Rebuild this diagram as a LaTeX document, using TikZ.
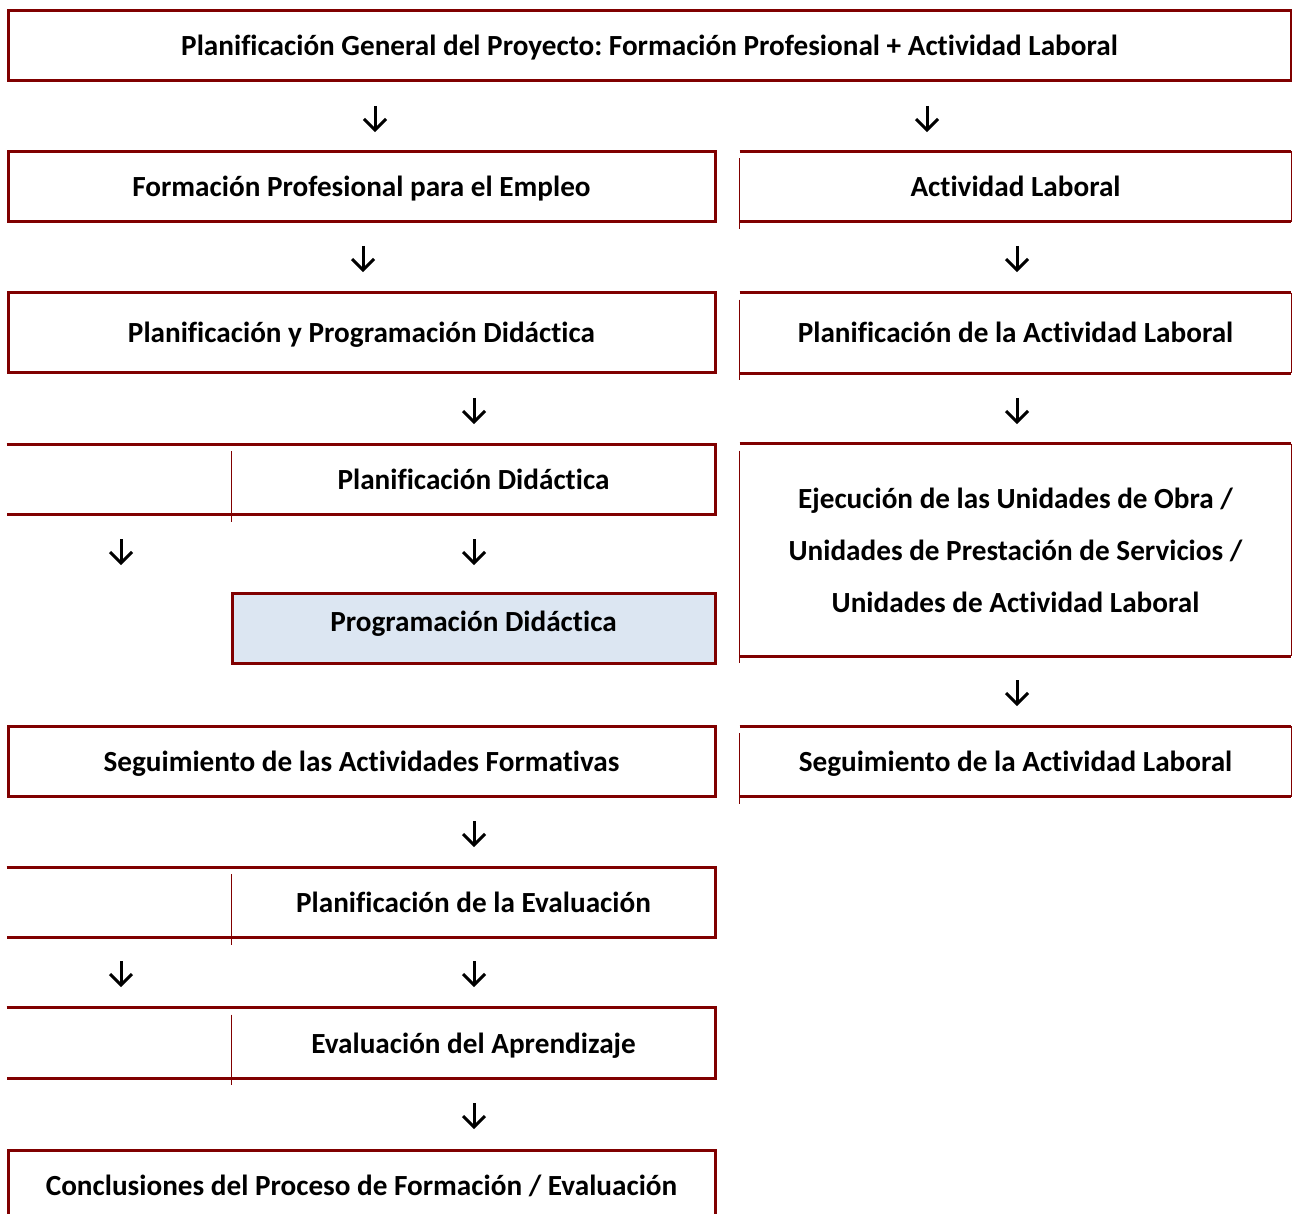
\documentclass[tikz,border=0pt]{standalone}
\usepackage{fontspec}
\setmainfont{Carlito}[RawFeature=-liga]
\frenchspacing
\definecolor{rim}{RGB}{128,0,0}
\definecolor{paleblue}{RGB}{220,230,242}
\tikzset{
  cell/.style={minimum height=35pt, inner sep=0pt, text height=11pt, text depth=1pt},
  lbox/.style={cell, draw=rim, line width=1.5pt, minimum width=353.5pt},
  rbox/.style={cell, minimum width=275.5pt},
  sbox/.style={cell, minimum width=241.5pt},
  edge/.style={draw=rim, line width=1.5pt},
  rule/.style={draw=rim, line width=0.8pt},
  down/.style={minimum size=16pt, inner sep=0pt, path picture={
    \draw[line width=1.5pt] ([yshift=6pt]path picture bounding box.center) -- ([yshift=-6pt]path picture bounding box.center);
    \draw[line width=1.5pt] ([xshift=-5.5pt,yshift=-0.5pt]path picture bounding box.center) -- ([yshift=-6pt]path picture bounding box.center) -- ([xshift=5.5pt,yshift=-0.5pt]path picture bounding box.center);
  }},
}
\begin{document}
\begin{tikzpicture}[x=0.5pt, y=-0.5pt, font=\bfseries\fontsize{14.6pt}{17.5pt}\selectfont]
  \useasboundingbox (0,0) rectangle (1292,1214);

  \node[lbox, minimum width=641.5pt] (gen) at (649.5,45.5) {Planificación General del Proyecto: Formación Profesional + Actividad Laboral};

  \node[lbox] (fpe) at (361.5,186.5) {Formación Profesional para el Empleo};
  \node[rbox] (al) at (1015.5,186.5) {Actividad Laboral};
  \node[lbox, minimum height=40pt] (ppd) at (361.5,333) {Planificación y Programación Didáctica};
  \node[rbox, minimum height=40pt] (pal) at (1015.5,333) {Planificación de la Actividad Laboral};
  \node[sbox] (pd) at (473.5,479.5) {Planificación Didáctica};
  \node[rbox, minimum height=106pt, align=center, text height=, text depth=] (eje) at (1015.5,550) {Ejecución de las Unidades de Obra /\\[8.5pt] Unidades de Prestación de Servicios /\\[8.5pt] Unidades de Actividad Laboral};
  \node[lbox, fill=paleblue, minimum width=241.5pt, text depth=8pt] (prd) at (473.5,628.5) {Programación Didáctica};
  \node[lbox] (saf) at (361.5,761.5) {Seguimiento de las Actividades Formativas};
  \node[rbox] (sal) at (1015.5,761.5) {Seguimiento de la Actividad Laboral};
  \node[sbox] (pev) at (473.5,902.5) {Planificación de la Evaluación};
  \node[sbox] (eap) at (473.5,1043) {Evaluación del Aprendizaje};
  \node[lbox] (con) at (361.5,1185) {Conclusiones del Proceso de Formación / Evaluación};

  % cell borders on the right column
  \foreach \n in {al,pal,eje,sal} {
    \draw[edge] (\n.north west) -- (\n.north east);
    \draw[edge] (\n.south west) -- (\n.south east);
    \draw[rule] ([yshift=-3.5pt]\n.north west) -- ([yshift=-3.5pt]\n.south west);
    \draw[rule] (\n.north east) -- (\n.south east);
  }
  % split rows on the left
  \foreach \n in {pd,pev,eap} {
    \draw[edge] (\n.north west -| fpe.west) -- (\n.north east) -- (\n.south east) -- (\n.south west -| fpe.west);
    \draw[rule] ([yshift=-3.5pt]\n.north west) -- ([yshift=-3.5pt]\n.south west);
  }

  \node[down] (d1) at (375,118) {};
  \node[down] (d2) at (927,118) {};
  \node[down] (d3) at (363,258) {};
  \node[down] (d4) at (1017,258) {};
  \node[down] (d5) at (474,410) {};
  \node[down] (d6) at (1017,410) {};
  \node[down] (d7) at (121,551) {};
  \node[down] (d8) at (474,551) {};
  \node[down] (d9) at (1017,692) {};
  \node[down] (d10) at (474,833) {};
  \node[down] (d11) at (121,973) {};
  \node[down] (d12) at (474,973) {};
  \node[down] (d13) at (474,1115) {};
\end{tikzpicture}
\end{document}
